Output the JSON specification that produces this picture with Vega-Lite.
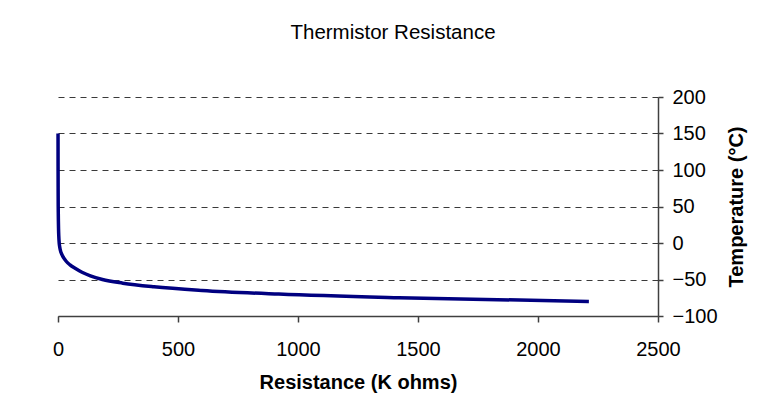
{
  "$schema": "https://vega.github.io/schema/vega-lite/v6.json",
  "width": 600,
  "height": 219,
  "autosize": {"type": "none"},
  "padding": {"left": 58, "top": 97, "right": 103, "bottom": 103},
  "background": "white",
  "title": {
    "text": "Thermistor Resistance",
    "font": "Liberation Sans",
    "fontSize": 20.5,
    "fontWeight": "normal",
    "color": "#000000",
    "anchor": "middle",
    "frame": "group",
    "dx": 35,
    "offset": 44
  },
  "config": {
    "view": {"stroke": null},
    "axis": {
      "labelFont": "Liberation Sans",
      "labelFontSize": 20,
      "labelColor": "#000000",
      "titleFont": "Liberation Sans",
      "titleFontSize": 20,
      "titleFontWeight": "bold",
      "titleColor": "#000000",
      "domainColor": "#404040",
      "tickColor": "#404040",
      "domainWidth": 1.5,
      "tickWidth": 1.5
    }
  },
  "data": {
    "values": [
      {"temp": 150, "res": 0.15},
      {"temp": 125, "res": 0.22},
      {"temp": 100, "res": 0.35},
      {"temp": 75, "res": 0.55},
      {"temp": 50, "res": 0.9},
      {"temp": 40, "res": 1.2},
      {"temp": 30, "res": 1.6},
      {"temp": 20, "res": 2.2},
      {"temp": 10, "res": 3.2},
      {"temp": 0, "res": 5},
      {"temp": -5, "res": 7},
      {"temp": -10, "res": 10},
      {"temp": -15, "res": 15},
      {"temp": -20, "res": 23},
      {"temp": -25, "res": 34},
      {"temp": -30, "res": 50},
      {"temp": -35, "res": 73},
      {"temp": -40, "res": 100},
      {"temp": -45, "res": 135},
      {"temp": -50, "res": 185},
      {"temp": -55, "res": 270},
      {"temp": -60, "res": 400},
      {"temp": -65, "res": 600},
      {"temp": -70, "res": 920},
      {"temp": -75, "res": 1420},
      {"temp": -80, "res": 2212}
    ]
  },
  "mark": {"type": "line", "color": "#000080", "strokeWidth": 3.5, "interpolate": "monotone"},
  "encoding": {
    "x": {
      "field": "res",
      "type": "quantitative",
      "scale": {"domain": [0, 2500], "nice": false},
      "axis": {
        "title": "Resistance (K ohms)",
        "values": [0, 500, 1000, 1500, 2000, 2500],
        "format": "d",
        "grid": false,
        "tickSize": 6,
        "labelPadding": 17,
        "titlePadding": 13,
        "labelFlush": false
      }
    },
    "y": {
      "field": "temp",
      "type": "quantitative",
      "scale": {"domain": [-100, 200], "nice": false},
      "axis": {
        "orient": "right",
        "title": "Temperature (°C)",
        "titleAngle": 270,
        "values": [-100, -50, 0, 50, 100, 150, 200],
        "format": "d",
        "grid": true,
        "gridDash": [6, 5],
        "gridColor": "#3a3a3a",
        "gridWidth": 1.2,
        "tickSize": 5,
        "labelPadding": 9,
        "titlePadding": 29,
        "labelFlush": false
      }
    }
  }
}
